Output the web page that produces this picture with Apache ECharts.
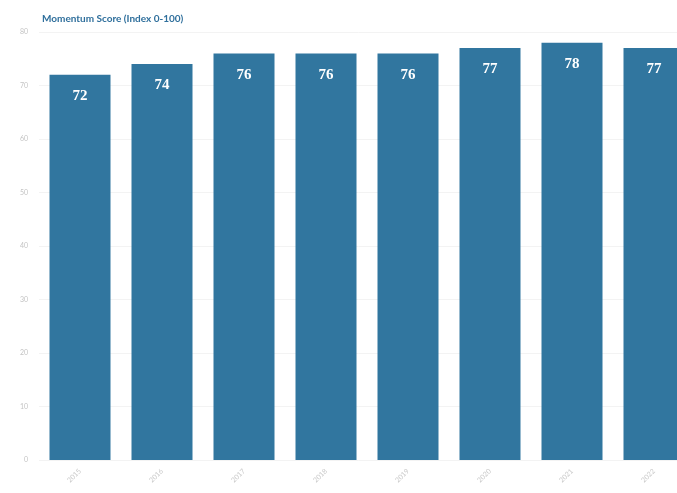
<!DOCTYPE html>
<html><head><meta charset="utf-8">
<script src="https://cdn.jsdelivr.net/npm/echarts@6/dist/echarts.min.js"></script>
<style>html,body{margin:0;padding:0;background:#fff}#c{width:677px;height:493px}</style>
</head><body><div id="c"></div>
<script>
const titleText = 'Momentum Score (Index 0-100)';
const categories = ['2015','2016','2017','2018','2019','2020','2021','2022'];
const values = [72, 74, 76, 76, 76, 77, 78, 77];
const yTicks = {min: 0, max: 80, interval: 10};

const chart = echarts.init(document.getElementById('c'));
chart.setOption({
  animation: false,
  backgroundColor: '#ffffff',
  title: {
    text: titleText, left: 37, top: 9,
    textStyle: {fontFamily: 'Lato', fontSize: 10, fontWeight: 'bold', color: '#2f6f9c'}
  },
  grid: {left: 39, right: -18, top: 32, bottom: 33, outerBoundsMode: 'none'},
  xAxis: {
    type: 'category', data: categories,
    axisLine: {show: false}, axisTick: {show: false},
    axisLabel: {rotate: 45, color: '#c8c8c8', fontSize: 7, margin: 10, fontFamily: 'Lato'}
  },
  yAxis: {
    type: 'value', min: yTicks.min, max: yTicks.max, interval: yTicks.interval,
    axisLine: {show: false}, axisTick: {show: false},
    axisLabel: {color: '#c4c4c4', fontSize: 7, margin: 11, fontFamily: 'Lato'},
    splitLine: {lineStyle: {color: '#f3f3f3', width: 1}}
  },
  series: [{
    type: 'bar', data: values, barWidth: 61,
    itemStyle: {color: '#31769f'},
    label: {
      show: true, position: 'insideTop', distance: 14,
      color: '#ffffff', fontSize: 15, fontWeight: 'bold',
      fontFamily: 'Liberation Serif'
    }
  }]
});
</script></body></html>
